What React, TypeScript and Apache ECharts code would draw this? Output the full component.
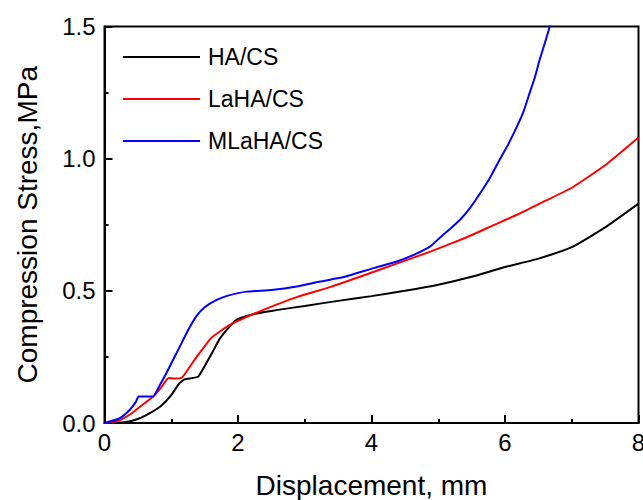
import React, { useEffect, useRef } from "react";
import * as echarts from "echarts";

const seriesNames = ["HA/CS", "LaHA/CS", "MLaHA/CS"];
const seriesColors = ["#000000", "#ff0000", "#0000ff"];

const haCs: number[][] = [
  [0, 0], [0.3, 0.003], [0.5, 0.015], [0.7, 0.04], [0.85, 0.065], [1.0, 0.105],
  [1.12, 0.15], [1.2, 0.165], [1.4, 0.175], [1.5, 0.215], [1.6, 0.26], [1.73, 0.32],
  [1.85, 0.358], [1.95, 0.385], [2.05, 0.398], [2.2, 0.41], [2.4, 0.42], [2.6, 0.428],
  [3.0, 0.443], [3.5, 0.462], [4.0, 0.48], [4.5, 0.5], [5.0, 0.523], [5.5, 0.553],
  [6.0, 0.59], [6.5, 0.622], [7.0, 0.665], [7.5, 0.74], [8.0, 0.83],
];

const laHaCs: number[][] = [
  [0, 0], [0.2, 0.008], [0.4, 0.035], [0.55, 0.065], [0.73, 0.1], [0.85, 0.135],
  [0.96, 0.17], [1.05, 0.168], [1.16, 0.172], [1.27, 0.21], [1.38, 0.25], [1.5, 0.29],
  [1.6, 0.322], [1.75, 0.35], [1.9, 0.374], [2.1, 0.398], [2.4, 0.43], [2.9, 0.478],
  [3.4, 0.516], [3.9, 0.56], [4.4, 0.605], [4.9, 0.65], [5.4, 0.7], [5.8, 0.745],
  [6.2, 0.79], [6.6, 0.84], [7.0, 0.89], [7.5, 0.975], [8.0, 1.08],
];

const mlaHaCs: number[][] = [
  [0, 0], [0.23, 0.018], [0.38, 0.05], [0.47, 0.08], [0.51, 0.1], [0.6, 0.1],
  [0.73, 0.1], [0.8, 0.13], [0.93, 0.19], [1.13, 0.29], [1.25, 0.35], [1.38, 0.405],
  [1.5, 0.438], [1.68, 0.466], [1.85, 0.482], [2.13, 0.497], [2.5, 0.503], [2.88, 0.516],
  [3.23, 0.535], [3.6, 0.553], [4.03, 0.586], [4.38, 0.611], [4.65, 0.638], [4.88, 0.668],
  [5.02, 0.7], [5.18, 0.735], [5.33, 0.77], [5.48, 0.815], [5.63, 0.87], [5.78, 0.93],
  [5.92, 0.996], [6.05, 1.055], [6.18, 1.122], [6.28, 1.18], [6.37, 1.249], [6.45, 1.31],
  [6.52, 1.375], [6.6, 1.44], [6.67, 1.5], [6.72, 1.55],
];

const seriesData = [haCs, laHaCs, mlaHaCs];

const xTicks = { min: 0, max: 8, interval: 2 };
const yTicks = { min: 0, max: 1.5, interval: 0.5 };
const xName = "Displacement, mm";
const yName = "Compression Stress,MPa";

const FONT = 'Arial, "Liberation Sans", sans-serif';

export default function App() {
  const ref = useRef<HTMLDivElement>(null);
  useEffect(() => {
    if (!ref.current) return;
    const chart = echarts.init(ref.current, null, { renderer: "svg" });
    const axisCommon = {
      axisLine: { show: true, onZero: false, lineStyle: { color: "#000", width: 2 } },
      axisTick: { show: true, inside: true, length: 8, lineStyle: { color: "#000", width: 2 } },
      minorTick: { show: true, splitNumber: 2, length: 4, lineStyle: { color: "#000", width: 2 } },
      splitLine: { show: false },
      nameLocation: "middle" as const,
      nameTextStyle: { fontFamily: FONT, fontSize: 28, color: "#000" },
    };
    chart.setOption({
      animation: false,
      backgroundColor: "#fff",
      grid: {
        left: 104.5,
        right: 4.5,
        top: 26.5,
        bottom: 77,
        show: true,
        borderColor: "#000",
        borderWidth: 2,
        backgroundColor: "transparent",
        containLabel: false,
        outerBoundsMode: "none",
      },
      legend: {
        show: true,
        orient: "vertical",
        left: 118,
        top: 40,
        icon: "rect",
        itemWidth: 77,
        itemHeight: 2,
        itemGap: 18,
        data: seriesNames,
        textStyle: { fontFamily: FONT, fontSize: 23, color: "#000", lineHeight: 24, padding: [0, 0, 0, 3] },
      },
      xAxis: {
        type: "value",
        ...xTicks,
        ...axisCommon,
        name: xName,
        nameGap: 48,
        axisLabel: {
          fontFamily: FONT,
          fontSize: 24,
          color: "#000",
          margin: 7,
          formatter: (v: number) => String(v),
        },
      },
      yAxis: {
        type: "value",
        ...yTicks,
        ...axisCommon,
        name: yName,
        nameGap: 63,
        axisLabel: {
          fontFamily: FONT,
          fontSize: 24,
          color: "#000",
          margin: 9,
          formatter: (v: number) => v.toFixed(1),
        },
      },
      series: seriesData.map((d, i) => ({
        name: seriesNames[i],
        type: "line",
        data: d,
        symbol: "none",
        smooth: 0.15,
        clip: true,
        color: seriesColors[i],
        lineStyle: { color: seriesColors[i], width: 2 },
      })),
    });
    return () => chart.dispose();
  }, []);
  return (
    <div
      ref={ref}
      style={{ position: "fixed", left: 0, top: 0, width: 643, height: 500 }}
    />
  );
}
